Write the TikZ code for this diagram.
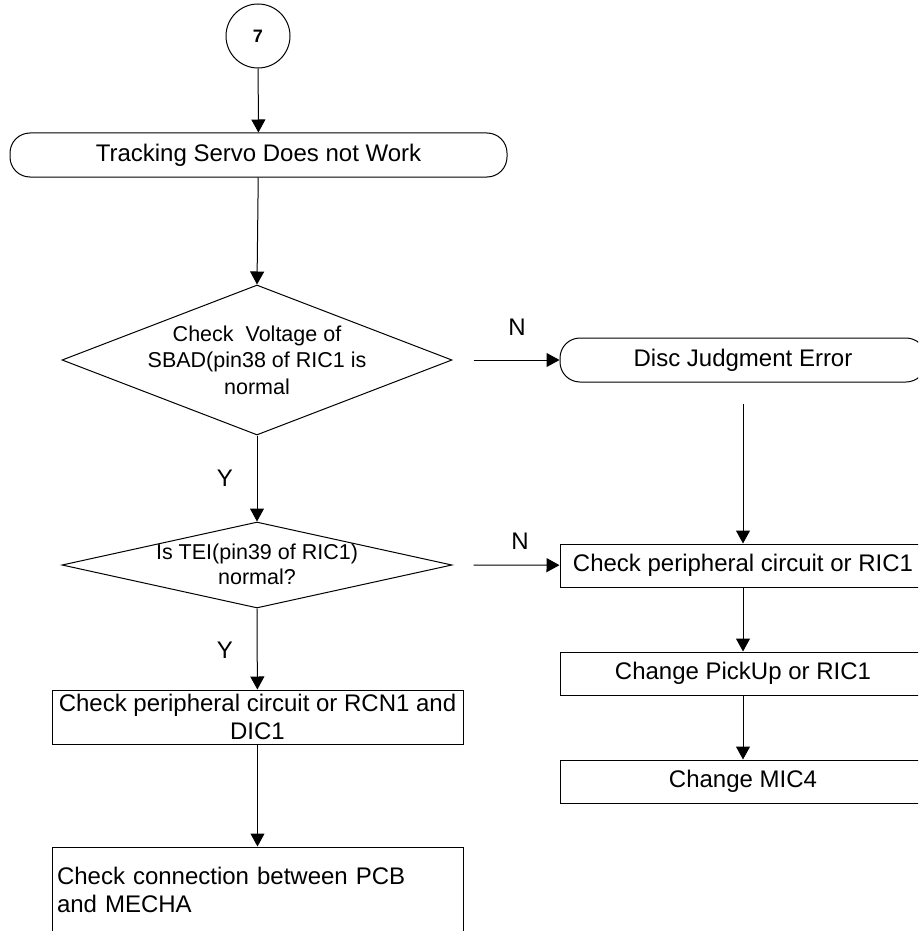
\documentclass[tikz,border=0pt]{standalone}
\usepackage{fontspec}
\setmainfont{Liberation Sans}
\usetikzlibrary{arrows.meta,shapes.geometric}
\begin{document}
\begin{tikzpicture}[x=1pt,y=-1pt,
  line width=1pt,
  txt/.style={font=\fontsize{24}{28}\selectfont},
  dtxt/.style={font=\fontsize{21.5}{26.5}\selectfont, align=center, inner sep=0pt},
  term/.style={draw, rounded corners=20pt, minimum height=44pt, inner sep=0pt, txt},
  proc/.style={draw, minimum height=43pt, inner sep=0pt, txt},
  dec/.style={draw, diamond, inner sep=0pt},
  arr/.style={-{Triangle[width=14pt,length=13pt]}},
  lbl/.style={txt, inner sep=0pt}]
\clip (0,0) rectangle (918,931);
\fill[white] (0,0) rectangle (918,931);

% nodes
\node[draw, circle, minimum size=64pt, inner sep=0pt, font=\fontsize{18}{20}\selectfont\bfseries] (c7) at (258,36) {7};
\node[term, minimum width=497pt] (t1) at (258.5,155) {Tracking Servo Does not Work};
\node[dec, minimum width=390pt, minimum height=150pt] (d1) at (257,360) {};
\node[dtxt] (d1t) at (257,360) {Check\ \ Voltage of\\SBAD(pin38 of RIC1 is\\normal};
\node[dec, minimum width=390pt, minimum height=86pt] (d2) at (257,565) {};
\node[dtxt, font=\fontsize{21.5}{25}\selectfont] (d2t) at (257,564.5) {Is TEI(pin39 of RIC1)\\normal?};
\node[term, minimum width=366pt] (dje) at (743,360) {Disc Judgment Error};
\node[proc, minimum width=366pt] (ric) at (743,565.5) {Check peripheral circuit or RIC1};
\node[proc, minimum width=366pt] (pick) at (743,673.5) {Change PickUp or RIC1};
\node[proc, minimum width=366pt] (mic) at (743,781.5) {Change MIC4};
\node[draw, minimum width=411pt, minimum height=54pt, inner sep=0pt, txt, align=center] (ba) at (257.5,717) {Check peripheral circuit or RCN1 and\\DIC1};
\node[draw, minimum width=411pt, minimum height=86pt, inner xsep=5pt, inner ysep=0pt, txt, text width=401pt, align=left] (bb) at (257.5,890) {Check connection between PCB\\and MECHA};

% labels
\node[lbl] (n1) at (517,327) {N};
\node[lbl] (n2) at (520,541) {N};
\node[lbl] (y1) at (225,478) {Y};
\node[lbl] (y2) at (225,650) {Y};

% free ends
\coordinate (s1) at ([xshift=21pt]d1.east);
\coordinate (s2) at ([xshift=21pt]d2.east);
\coordinate (s3) at ([yshift=-21pt]dje.south);

% connectors
\draw[arr] (c7) -- (t1);
\draw[arr] (t1) -- (d1.north);
\draw[arr] (d1.south) -- (d2.north);
\draw[arr] (d2.south) -- (ba);
\draw[arr] (ba) -- (bb);
\draw[arr] (s1) -- (dje);
\draw[arr] (s2) -- (ric);
\draw[arr] (s3) -- (ric);
\draw[arr] (ric) -- (pick);
\draw[arr] (pick) -- (mic);
\end{tikzpicture}
\end{document}
